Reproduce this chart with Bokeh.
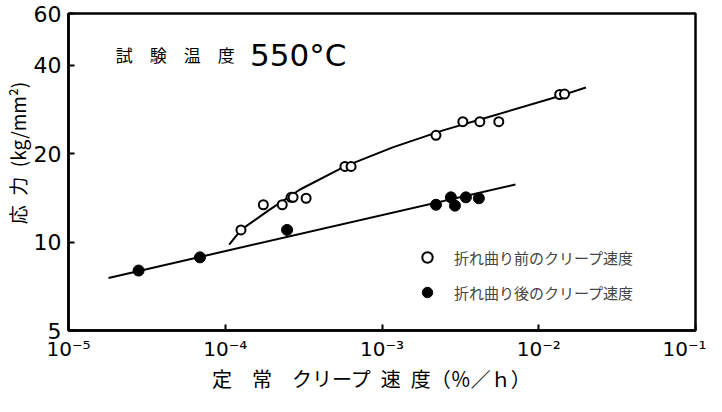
from bokeh.plotting import figure
from bokeh.models import FixedTicker, Legend, LegendItem, Label
from bokeh.embed import file_html
from bokeh.resources import INLINE

# ---- data ----
# creep rate before the bend (open circles)
before_rate = [1.26e-4, 1.75e-4, 2.31e-4, 2.63e-4, 2.71e-4, 3.28e-4, 5.8e-4, 6.35e-4,
               2.21e-3, 3.28e-3, 4.21e-3, 5.56e-3, 1.36e-2, 1.46e-2]
before_stress = [11.0, 13.4, 13.4, 14.2, 14.2, 14.1, 18.1, 18.1,
                 23.1, 25.7, 25.7, 25.7, 31.8, 31.9]

# creep rate after the bend (filled circles)
after_rate = [2.8e-5, 6.9e-5, 2.48e-4, 2.21e-3, 2.75e-3, 2.92e-3, 3.43e-3, 4.15e-3]
after_stress = [8.0, 8.87, 11.0, 13.4, 14.2, 13.3, 14.2, 14.1]

# fitted curve through the "before" data
before_fit_rate = [1.06e-4, 1.26e-4, 1.88e-4, 3.0e-4, 5.8e-4, 1.17e-3, 2.45e-3, 4.73e-3, 1.28e-2, 2.0e-2]
before_fit_stress = [9.8, 11.0, 12.8, 15.1, 18.1, 21.0, 24.0, 26.6, 31.1, 33.6]

# fitted straight line through the "after" data
after_fit_rate = [1.8e-5, 7.1e-3]
after_fit_stress = [7.55, 15.7]

x_ticks = [1e-5, 1e-4, 1e-3, 1e-2, 1e-1]
x_tick_labels = ["10⁻⁵", "10⁻⁴", "10⁻³", "10⁻²", "10⁻¹"]
y_ticks = [5, 10, 20, 40, 60]
y_tick_labels = ["5", "10", "20", "40", "60"]

label_before = "折れ曲り前のクリープ速度"
label_after = "折れ曲り後のクリープ速度"
title_jp = "試\u2003験\u2003温\u2003度"
title_temp = "550°C"
x_title = "定\u2003常\u2003クリープ\u2002速\u2002度（％／ｈ）\u2003"
y_title = "\u2003\u2003応\u2002力\u2002(kg/mm²)"

CJK = "Noto Sans CJK JP"
LAT = "DejaVu Sans"

p = figure(width=706, height=396, x_axis_type="log", y_axis_type="log",
           x_range=(1e-5, 1e-1), y_range=(5, 60),
           output_backend="svg", toolbar_location=None,
           min_border_left=68, min_border_right=11, min_border_top=13, min_border_bottom=66)

p.xgrid.visible = False
p.ygrid.visible = False
p.background_fill_color = "white"
p.border_fill_color = "white"
p.outline_line_color = "black"
p.outline_line_width = 2.5
p.outline_line_alpha = 1.0

for ax in (p.xaxis[0], p.yaxis[0]):
    ax.axis_line_width = 2.5
    ax.axis_line_color = "black"
    ax.major_tick_in = 6
    ax.major_tick_out = 0
    ax.major_tick_line_width = 2
    ax.minor_tick_line_color = None
    ax.major_label_text_color = "black"
    ax.major_label_text_font = LAT
    ax.axis_label_text_font = CJK
    ax.axis_label_text_font_style = "normal"
    ax.axis_label_text_color = "black"

p.xaxis.ticker = FixedTicker(ticks=x_ticks)
p.xaxis.major_label_overrides = dict(zip(x_ticks, x_tick_labels))
p.xaxis.major_label_text_font_size = "20px"
p.xaxis.major_label_standoff = 6
p.xaxis.axis_label = x_title
p.xaxis.axis_label_text_font_size = "20px"
p.xaxis.axis_label_standoff = 0

p.yaxis.ticker = FixedTicker(ticks=y_ticks)
p.yaxis.major_label_overrides = dict(zip(y_ticks, y_tick_labels))
p.yaxis.major_label_text_font_size = "22px"
p.yaxis.major_label_standoff = 7
p.yaxis.axis_label = y_title
p.yaxis.axis_label_text_font_size = "19px"
p.yaxis.axis_label_standoff = 0

# fitted lines
p.line(before_fit_rate, before_fit_stress, line_color="black", line_width=2)
p.line(after_fit_rate, after_fit_stress, line_color="black", line_width=2)

# data points
r_before = p.scatter(before_rate, before_stress, marker="circle", size=9,
                     fill_color="white", line_color="black", line_width=2)
r_after = p.scatter(after_rate, after_stress, marker="circle", size=11,
                    fill_color="black", line_color="black", line_width=1)

# title annotation inside plot
p.add_layout(Label(x=2.0e-5, y=43.5, text=title_jp, text_font=CJK,
                   text_font_size="17px", text_baseline="middle", text_color="black"))
p.add_layout(Label(x=1.44e-4, y=43.5, text=title_temp, text_font=LAT,
                   text_font_size="31px", text_baseline="middle", text_color="black"))

legend = Legend(items=[LegendItem(label=label_before, renderers=[r_before]),
                       LegendItem(label=label_after, renderers=[r_after])],
                location=(346, 25), padding=0, margin=0, spacing=9,
                glyph_width=26, glyph_height=26, label_height=26, label_standoff=14,
                label_text_font=CJK, label_text_font_size="15px",
                border_line_color=None, background_fill_alpha=0)
p.add_layout(legend)

open("out.html", "w").write(file_html(p, INLINE))
